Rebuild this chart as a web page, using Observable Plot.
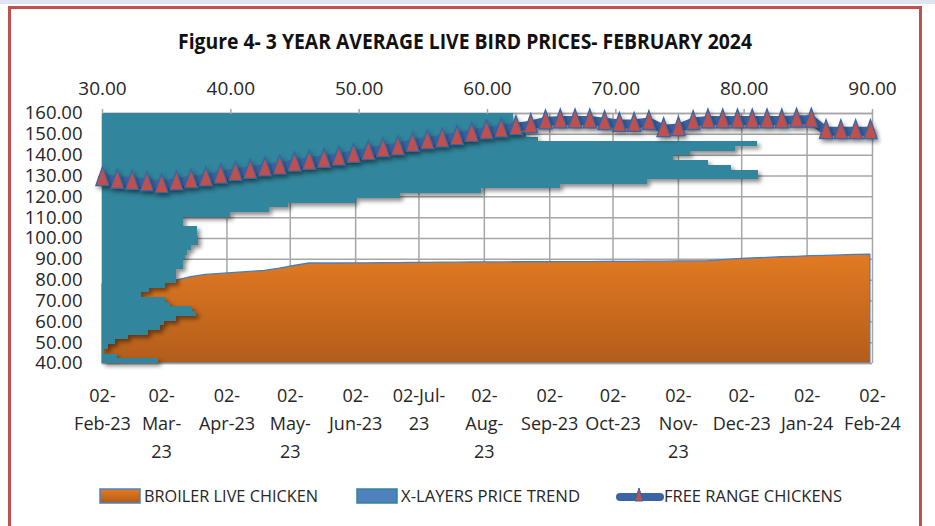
<!DOCTYPE html>
<html><head><meta charset="utf-8">
<script src="https://cdn.jsdelivr.net/npm/d3@7"></script>
<script src="https://cdn.jsdelivr.net/npm/@observablehq/plot@0.6"></script>
<style>
html,body{margin:0;padding:0;background:#fff;}
body{width:935px;height:526px;overflow:hidden;position:relative;font-family:"Open Sans",sans-serif;}
#topband{position:absolute;left:0;top:0;width:935px;height:4px;background:#dfe4f1;}
#frame{position:absolute;left:8px;top:6px;width:908px;height:540px;border:3px solid #c0504d;}
.layer{position:absolute;left:0;top:60px;}
#title{position:absolute;left:0;top:24px;}
#legend{position:absolute;left:0;top:482px;}
</style></head><body>
<div id="topband"></div>
<div id="frame"></div>
<div id="title"></div>
<div id="chart"></div>
<div id="legend"></div>
<script>
// ---------- data ----------
const weekDates = ["2023-02-02","2023-02-09","2023-02-16","2023-02-23","2023-03-02","2023-03-09","2023-03-16","2023-03-23","2023-03-30",
"2023-04-06","2023-04-13","2023-04-20","2023-04-27","2023-05-04","2023-05-11","2023-05-18","2023-05-25","2023-06-01","2023-06-08",
"2023-06-15","2023-06-22","2023-06-29","2023-07-06","2023-07-13","2023-07-20","2023-07-27","2023-08-03","2023-08-10","2023-08-17",
"2023-08-24","2023-08-31","2023-09-07","2023-09-14","2023-09-21","2023-09-28","2023-10-05","2023-10-12","2023-10-19","2023-10-26",
"2023-11-02","2023-11-09","2023-11-16","2023-11-23","2023-11-30","2023-12-07","2023-12-14","2023-12-21","2023-12-28","2024-01-04",
"2024-01-11","2024-01-18","2024-01-25","2024-02-01"];

const broiler = [78.0,78.5,79.0,79.3,79.6,79.8,81.5,82.5,83.0,83.5,84.0,84.5,85.5,86.8,88.0,88.0,88.0,88.1,88.1,88.2,88.2,88.3,88.3,
88.4,88.4,88.5,88.5,88.5,88.6,88.6,88.6,88.7,88.7,88.7,88.8,88.8,88.8,88.9,88.9,89.0,89.0,89.1,89.6,90.1,90.4,90.7,91.0,91.2,91.5,
91.7,91.9,92.1,92.3];

const xLayers = [34.4,31.2,30.1,30.5,31.0,32.0,33.6,34.5,34.8,35.8,37.3,37.0,35.3,34.9,33.0,33.7,34.9,35.8,35.8,35.8,36.3,36.3,36.5,
36.6,36.9,37.5,37.5,37.4,37.4,36.3,36.3,40.0,43.0,44.5,49.7,53.2,59.5,65.7,72.5,81.1,81.1,79.0,77.2,74.5,75.8,79.3,81.0,64.0,63.0,
62.5,62.0,62.0,62.0];

const freeRange = [129.0,127.7,127.2,126.5,125.6,126.9,127.9,128.8,130.2,131.5,132.4,133.6,134.5,135.9,136.8,137.7,138.8,140.1,141.4,
142.8,143.7,145.4,146.6,147.5,148.6,150.2,151.4,152.3,153.4,154.4,156.2,156.7,156.7,156.7,155.8,155.0,155.0,155.9,152.5,153.0,155.9,
156.7,156.7,156.7,156.7,156.7,156.7,157.0,157.0,151.5,151.5,151.5,151.5];

const yTicks = [40,50,60,70,80,90,100,110,120,130,140,150,160];
const topTicks = [30,40,50,60,70,80,90];
const monthTicks = ["2023-02-02","2023-03-02","2023-04-02","2023-05-02","2023-06-02","2023-07-02","2023-08-02","2023-09-02",
"2023-10-02","2023-11-02","2023-12-02","2024-01-02","2024-02-02"];
const monthLabels = ["02-\nFeb-23","02-\nMar-\n23","02-\nApr-23","02-\nMay-\n23","02-\nJun-23","02-Jul-\n23","02-\nAug-\n23",
"02-\nSep-23","02-\nOct-23","02-\nNov-\n23","02-\nDec-23","02-\nJan-24","02-\nFeb-24"];

const titleText = "Figure 4- 3 YEAR AVERAGE LIVE BIRD PRICES- FEBRUARY 2024";
const seriesNames = ["BROILER LIVE CHICKEN","X-LAYERS PRICE TREND","FREE RANGE CHICKENS"];

// ---------- tables ----------
const parse = s => new Date(s + "T00:00:00Z");
const broilerData = weekDates.map((d, i) => ({date: parse(d), value: broiler[i]}));
const layersData = weekDates.map((d, i) => ({week: d, value: xLayers[i]}));
const freeData = weekDates.map((d, i) => ({date: parse(d), value: freeRange[i]}));
const monthData = monthTicks.map((d, i) => ({date: parse(d), label: monthLabels[i]}));

// ---------- layout ----------
const W = 935, H = 410;
const margins = {marginTop: 53, marginRight: 63, marginBottom: 107, marginLeft: 102};
const grey = "#a6a6a6";
const font = "'Open Sans', sans-serif";
const ink = "#262626";
const xTime = {type: "utc", domain: [parse(monthTicks[0]), parse(monthTicks[monthTicks.length - 1])], axis: null};
const yVal = {domain: [40, 160], axis: null};
const baseStyle = {background: "transparent", fontFamily: font, color: ink, overflow: "visible"};

const gradDefs = () => {
  const d = d3.create("svg:defs");
  const g = d.append("linearGradient").attr("id", "orangeGrad").attr("x1", 0).attr("y1", 0).attr("x2", 0).attr("y2", 1);
  g.append("stop").attr("offset", "0%").attr("stop-color", "#e27a22");
  g.append("stop").attr("offset", "100%").attr("stop-color", "#b25d1b");
  return d.node();
};

// base layer: grid, broiler area, left/bottom axes
const plotA = Plot.plot({
  width: W, height: H, ...margins,
  x: xTime, y: yVal, style: baseStyle,
  marks: [
    gradDefs,
    Plot.gridY(yTicks, {stroke: grey, strokeOpacity: 1, strokeWidth: 1.5}),
    Plot.gridX(monthData.map(d => d.date), {stroke: grey, strokeOpacity: 1, strokeWidth: 1.5}),
    Plot.areaY(broilerData, {x: "date", y1: 40, y2: "value", fill: "url(#orangeGrad)", stroke: "#4a7ebb", strokeWidth: 1.3}),
    Plot.ruleY([40, 160], {stroke: grey, strokeWidth: 1.5}),
    Plot.ruleX([parse(monthTicks[0])], {stroke: grey, strokeWidth: 1.5}),
    Plot.axisY(yTicks, {tickFormat: d3.format(".2f"), tickSize: 0, tickPadding: 20, fontSize: 18.5, fill: ink, label: null}),
    Plot.text(monthData, {x: "date", text: "label", frameAnchor: "bottom", dy: 19, lineAnchor: "top",
      lineHeight: 1.55, fontSize: 18, fill: ink})
  ]
});

// X-layers: horizontal bars against the top (secondary) axis
const plotB = Plot.plot({
  width: W, height: H, ...margins, style: baseStyle,
  x: {domain: [30, 90], axis: null},
  y: {type: "band", domain: weekDates.slice().reverse(), padding: 0, axis: null},
  marks: [
    Plot.barX(layersData, {y: "week", x1: 30, x2: "value", fill: "#31859c", shapeRendering: "crispEdges"}),
    Plot.axisX(topTicks, {anchor: "top", tickFormat: d3.format(".2f"), tickSize: 5, tickPadding: 14, fontSize: 19,
      stroke: grey, strokeWidth: 1.5, fill: ink, label: null})
  ]
});

// free range line with tall triangle markers
const tallTriangle = {
  draw(ctx, size) {
    const r = Math.sqrt(size / Math.PI);
    ctx.moveTo(0, -1.35 * r);
    ctx.lineTo(0.95 * r, 1.35 * r);
    ctx.lineTo(-0.95 * r, 1.35 * r);
    ctx.closePath();
  }
};
const plotC = Plot.plot({
  width: W, height: H, ...margins, x: xTime, y: yVal, style: baseStyle,
  marks: [
    Plot.lineY(freeData, {x: "date", y: "value", stroke: "#3a64a3", strokeWidth: 9, strokeLinejoin: "round"}),
    Plot.dot(freeData, {x: "date", y: "value", symbol: tallTriangle, r: 7, dy: -2, fill: "#c0504d", stroke: "#3a64a3", strokeWidth: 1.3})
  ]
});

const chart = document.getElementById("chart");
for (const p of [plotA, plotB, plotC]) { p.classList.add("layer"); chart.appendChild(p); }
plotB.querySelectorAll("g[aria-label='bar']").forEach(g => g.style.filter = "drop-shadow(3px 3px 2px rgba(0,0,0,0.45))");
plotC.querySelectorAll("g[aria-label='line'], g[aria-label='dot']").forEach(g => g.style.filter = "drop-shadow(2px 3px 2px rgba(0,0,0,0.4))");

// ---------- title ----------
const ts = d3.select("#title").append("svg").attr("width", W).attr("height", 36);
ts.append("text").attr("x", 465).attr("y", 25).attr("text-anchor", "middle")
  .attr("font-family", font).attr("font-weight", "bold").attr("font-size", 21).attr("fill", "#111")
  .attr("textLength", 574).attr("lengthAdjust", "spacingAndGlyphs").text(titleText);

// ---------- legend ----------
const ls = d3.select("#legend").append("svg").attr("width", W).attr("height", 30);
const lg = ls.append("defs").append("linearGradient").attr("id", "legGrad").attr("x1", 0).attr("y1", 0).attr("x2", 0).attr("y2", 1);
lg.append("stop").attr("offset", "0%").attr("stop-color", "#e27a22");
lg.append("stop").attr("offset", "100%").attr("stop-color", "#b25d1b");
const cy = 14;
ls.append("rect").attr("x", 100).attr("y", cy - 7).attr("width", 40).attr("height", 14).attr("fill", "url(#legGrad)").attr("stroke", "#4f81bd").attr("stroke-width", 1.5);
ls.append("rect").attr("x", 357).attr("y", cy - 7).attr("width", 40).attr("height", 14).attr("fill", "#4f81bd").attr("stroke", "#31859c").attr("stroke-width", 1.5);
ls.append("line").attr("x1", 620).attr("x2", 660).attr("y1", cy + 1).attr("y2", cy + 1).attr("stroke", "#3a64a3").attr("stroke-width", 8).attr("stroke-linecap", "round");
ls.append("path").attr("d", `M639,${cy - 8}L643,${cy + 5}L635,${cy + 5}Z`).attr("fill", "#c0504d").attr("stroke", "#3a64a3").attr("stroke-width", 1);
const legText = [[144, 174], [401, 179], [664, 178]];
seriesNames.forEach((n, i) => {
  ls.append("text").attr("x", legText[i][0]).attr("y", cy + 6).attr("font-family", font).attr("font-size", 16).attr("fill", ink)
    .attr("textLength", legText[i][1]).attr("lengthAdjust", "spacingAndGlyphs").text(n);
});
</script>
</body></html>
